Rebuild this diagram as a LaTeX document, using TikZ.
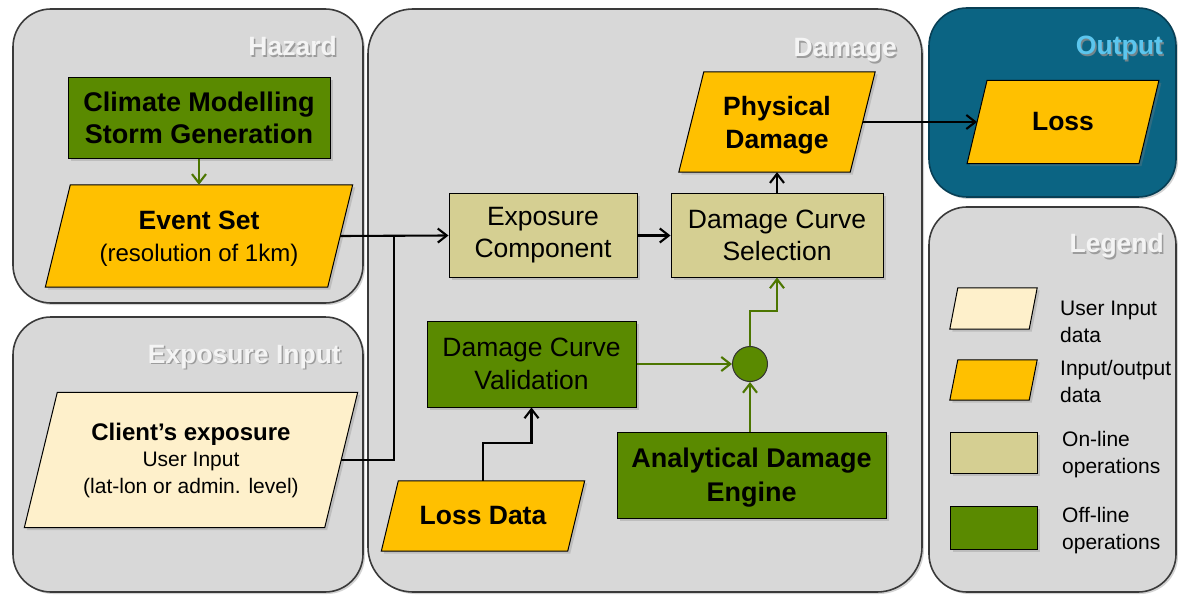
\documentclass[tikz,border=0pt]{standalone}
\usepackage{fontspec}
\setmainfont{Liberation Sans}
\usetikzlibrary{shadows,arrows.meta,calc}
\definecolor{panelgrey}{HTML}{D8D8D8}
\definecolor{paneledge}{HTML}{3A3A3A}
\definecolor{offgreen}{HTML}{5A8A00}
\definecolor{arrowgreen}{HTML}{4C7600}
\definecolor{ioorange}{HTML}{FFC000}
\definecolor{usercream}{HTML}{FEF0CB}
\definecolor{onkhaki}{HTML}{D5CF92}
\definecolor{outteal}{HTML}{0B6483}
\definecolor{outedge}{HTML}{083F55}
\definecolor{outtitle}{HTML}{5CC6EE}
\definecolor{titlewhite}{HTML}{F4F4F4}
\definecolor{titleshadow}{HTML}{8E8E8E}
\pgfdeclarelayer{panels}
\pgfdeclarelayer{shapes}
\pgfsetlayers{panels,shapes,main}
\newcommand\fs[2]{\fontsize{#1}{#2}\selectfont}
\newcommand\parashape[3]{%
  \begin{pgfonlayer}{shapes}
    \path[parafill, fill=#3] ([xshift=#2/2]#1.north west) -- ([xshift=#2/2]#1.north east)
      -- ([xshift=-#2/2]#1.south east) -- ([xshift=-#2/2]#1.south west) -- cycle;
  \end{pgfonlayer}}
\newcommand\paneltitle[4]{%
  \node[titletext, text=titleshadow, opacity=0.8] at ($(#2)+(1.5,1.5)$) {#3};
  \node[titletext, text=#4] (#1) at (#2) {#3};}
\tikzset{
  panel/.style={fill=panelgrey, draw=paneledge, line width=1.6pt, rounded corners=38pt,
    inner sep=0pt, drop shadow={shadow xshift=2pt, shadow yshift=-2pt, opacity=0.35}},
  boxbase/.style={draw=black, line width=1pt, inner sep=0pt, align=center,
    drop shadow={shadow xshift=2.5pt, shadow yshift=-2.5pt, opacity=0.3}},
  offbox/.style={boxbase, fill=offgreen},
  onbox/.style={boxbase, fill=onkhaki},
  parahold/.style={inner sep=0pt, align=center},
  parafill/.style={draw=black, line width=1pt,
    drop shadow={shadow xshift=2.5pt, shadow yshift=-2.5pt, opacity=0.3}},
  titletext/.style={anchor=base east, inner sep=0pt, font=\fs{26.5}{30}\bfseries},
  legtext/.style={anchor=west, inner sep=0pt, align=left, font=\fs{21}{27}},
  >={Straight Barb[length=9pt,width=14pt]},
  conn/.style={draw=black, line width=2.1pt, ->},
  link/.style={draw=black, line width=2.1pt},
  gconn/.style={draw=arrowgreen, line width=2.1pt, ->},
}
\begin{document}
\begin{tikzpicture}[x=1pt,y=-1pt]
\useasboundingbox (0,0) rectangle (1178,596);
% panels
\begin{pgfonlayer}{panels}
  \node[panel, minimum width=350pt, minimum height=294pt] (phaz) at (188,156) {};
  \node[panel, minimum width=350pt, minimum height=275pt] (pexp) at (188,454.5) {};
  \node[panel, rounded corners=45pt, minimum width=554pt, minimum height=583pt] (pdam) at (645,300.5) {};
  \node[panel, fill=outteal, draw=outedge, minimum width=247pt, minimum height=189pt] (pout) at (1052.5,102.5) {};
  \node[panel, minimum width=247pt, minimum height=385pt] (pleg) at (1052.5,399.5) {};
\end{pgfonlayer}
% panel titles
\coordinate (thazp) at (337,56);
\coordinate (texpp) at (341,363);
\coordinate (tdamp) at (897,57);
\coordinate (toutp) at (1163,55);
\coordinate (tlegp) at (1164,253);
\paneltitle{thaz}{thazp}{Hazard}{titlewhite}
\paneltitle{texp}{texpp}{Exposure Input}{titlewhite}
\paneltitle{tdam}{tdamp}{Damage}{titlewhite}
\paneltitle{tout}{toutp}{Output}{outtitle}
\paneltitle{tleg}{tlegp}{Legend}{titlewhite}
% hazard
\node[offbox, minimum width=262pt, minimum height=81pt, font=\fs{27}{32}\bfseries] (clim) at (199,118)
  {Climate Modelling\\Storm Generation};
\node[parahold, minimum width=282pt, minimum height=102pt, font=\fs{24}{32}, text depth=0pt] (es) at (199,236)
  {\fs{26.5}{32}\bfseries Event Set\\(resolution of 1km)};
\parashape{es}{25}{ioorange}
% exposure input
\node[parahold, minimum width=300pt, minimum height=135pt, font=\fs{21}{26.5}] (cl) at (191,460)
  {\fs{24}{27}\bfseries Client’s exposure\\User Input\\(lat-lon or admin. level)};
\parashape{cl}{33}{usercream}
% damage
\node[onbox, minimum width=188pt, minimum height=83pt, font=\fs{26.5}{32}] (ec) at (543,235.5)
  {Exposure\\Component};
\node[onbox, minimum width=212pt, minimum height=83pt, font=\fs{26.5}{32}] (dcs) at (777,235.5)
  {Damage Curve\\Selection};
\node[parahold, minimum width=171pt, minimum height=100pt, font=\fs{26.5}{33}\bfseries, text depth=0pt] (pd) at (777,122)
  {Physical\\Damage};
\parashape{pd}{25}{ioorange}
\node[offbox, minimum width=209pt, minimum height=86pt, font=\fs{26.5}{33}] (dcv) at (531.5,364)
  {Damage Curve\\Validation};
\node[circle, draw=black!80, line width=1pt, fill=offgreen, minimum size=35pt, inner sep=0pt] (jn) at (750,364) {};
\node[offbox, minimum width=269pt, minimum height=86pt, font=\fs{27}{34}\bfseries, text depth=0pt] (ade) at (751.5,475)
  {Analytical Damage\\Engine};
\node[parahold, minimum width=186pt, minimum height=70pt, font=\fs{26.5}{32}\bfseries] (ld) at (483,516)
  {Loss Data};
\parashape{ld}{17}{ioorange}
% output
\node[parahold, minimum width=171.5pt, minimum height=83pt, font=\fs{26.5}{32}\bfseries] (loss) at (1063,122)
  {Loss};
\parashape{loss}{20}{ioorange}
% legend
\node[parahold, minimum width=79pt, minimum height=41pt] (lguser) at (993.5,308.5) {};
\parashape{lguser}{8}{usercream}
\node[parahold, minimum width=79pt, minimum height=40pt] (lgio) at (993.5,380) {};
\parashape{lgio}{8}{ioorange}
\node[onbox, minimum width=87pt, minimum height=41pt] (lgon) at (993.5,452.5) {};
\node[offbox, minimum width=87pt, minimum height=43pt] (lgoff) at (993.5,527.5) {};
\node[legtext] (tuser) at (1060,321.5) {User Input\\data};
\node[legtext] (tio) at (1060,381.5) {Input/output\\data};
\node[legtext] (ton) at (1062,454.5) {On-line\\operations};
\node[legtext] (toff) at (1062,530.5) {Off-line\\operations};
% connectors
\coordinate (j) at (394,236);
\coordinate (cb) at (750,311);
\coordinate (lb) at (483,443);
\draw[gconn] (clim.south) -- (es.north);
\draw[conn] (es.east) -- (ec.west);
\draw[link] (cl.east) -| (j);
\draw[conn] (ec.east) -- (dcs.west);
\draw[conn] (dcs.north) -- (pd.south);
\draw[conn] (pd.east) -- (loss.west);
\draw[gconn] (dcv.east) -- (jn.west);
\draw[gconn] (ade.north -| jn) -- (jn.south);
\draw[gconn] (jn.north) -- (cb) -| (dcs.south);
\draw[conn] (ld.north) -- (lb) -| (dcv.south);
\end{tikzpicture}
\end{document}
